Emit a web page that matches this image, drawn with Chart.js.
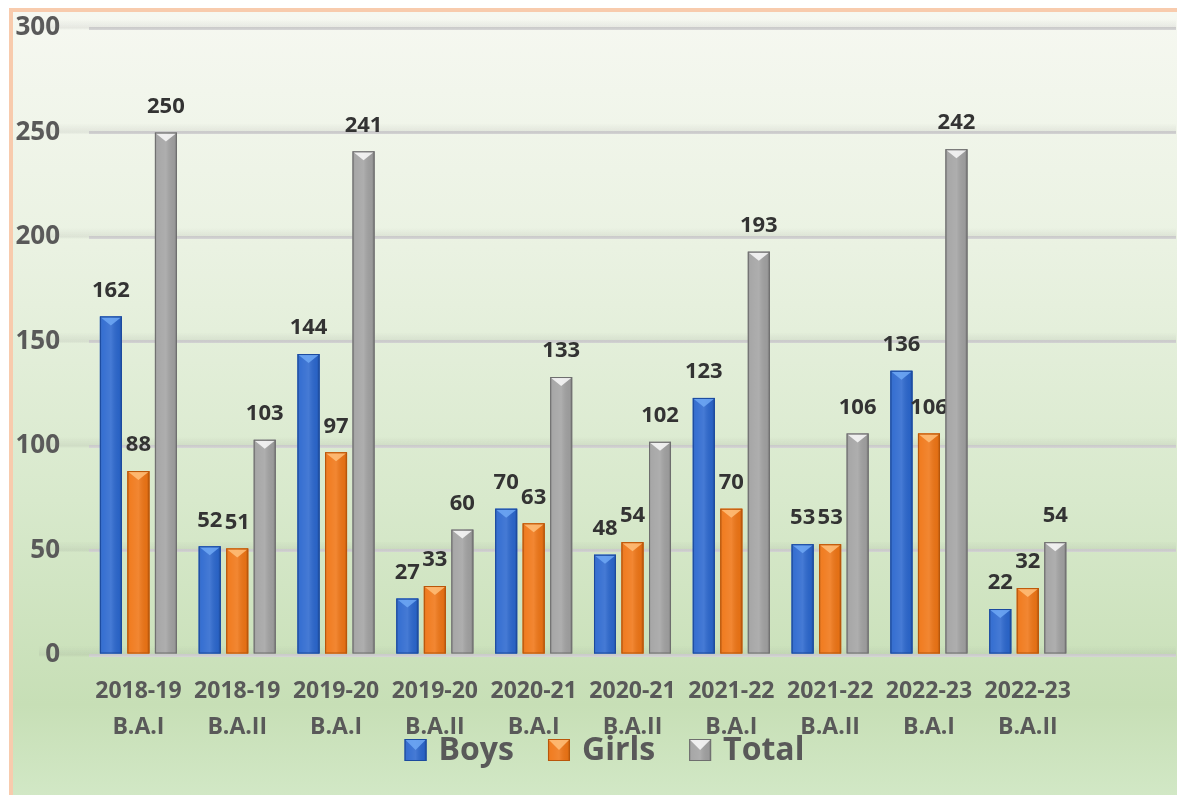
<!DOCTYPE html>
<html>
<head>
<meta charset="utf-8">
<script src="https://cdn.jsdelivr.net/npm/chart.js@4"></script>
<style>
  html, body { margin: 0; padding: 0; background: #ffffff; }
  #frame {
    position: absolute; left: 9px; top: 8px; width: 1168px; height: 787px;
    border-left: 4px solid #F8CBAD; border-top: 4px solid #F8CBAD;
    background: linear-gradient(to bottom, #F6F8F1 0%, #EAF2E2 30%, #D8E9CC 62%, #C7DFB6 88%, #D2E8C6 100%);
  }
  #box { position: absolute; left: 0; top: 0; width: 1177px; height: 795px; }
</style>
</head>
<body>
<div id="frame"></div>
<div id="box"><canvas id="enrolChart"></canvas></div>
<script>
// sessions / classes on the x axis (last slot left empty, like the original)
const sessions = [
    ['2018-19', 'B.A.I'], ['2018-19', 'B.A.II'],
    ['2019-20', 'B.A.I'], ['2019-20', 'B.A.II'],
    ['2020-21', 'B.A.I'], ['2020-21', 'B.A.II'],
    ['2021-22', 'B.A.I'], ['2021-22', 'B.A.II'],
    ['2022-23', 'B.A.I'], ['2022-23', 'B.A.II'],
    ''
];
const boys  = [162, 52, 144, 27, 70, 48, 123, 53, 136, 22];
const girls = [88, 51, 97, 33, 63, 54, 70, 53, 106, 32];
const total = [250, 103, 241, 60, 133, 102, 193, 106, 242, 54];
const yTicks = [0, 50, 100, 150, 200, 250, 300];

const FONT = '"Open Sans", Lato, sans-serif';
const TEXT = '#595959';

// bevel colours per series: [face, dark edge, light tip]
const shades = [
    ['#2C68CF', '#1C4A9E', '#6FA8F5'],
    ['#F07616', '#B9560A', '#FFC07A'],
    ['#A3A3A3', '#6E6E6E', '#FAFAFA']
];

function bevelBox(ctx, l, t, w, h, sh, tip) {
    ctx.fillStyle = sh[0];
    ctx.fillRect(l, t, w, h);
    const g = ctx.createLinearGradient(l, 0, l + w, 0);
    g.addColorStop(0, 'rgba(0,0,0,0.18)');
    g.addColorStop(0.12, 'rgba(255,255,255,0.05)');
    g.addColorStop(0.5, 'rgba(255,255,255,0.12)');
    g.addColorStop(0.88, 'rgba(0,0,0,0.05)');
    g.addColorStop(1, 'rgba(0,0,0,0.25)');
    ctx.fillStyle = g;
    ctx.fillRect(l, t, w, h);
    ctx.beginPath();
    ctx.moveTo(l + 1, t + 1);
    ctx.lineTo(l + w - 1, t + 1);
    ctx.lineTo(l + w / 2, t + tip);
    ctx.closePath();
    ctx.fillStyle = sh[2];
    ctx.globalAlpha = 0.85;
    ctx.fill();
    ctx.globalAlpha = 1;
    ctx.strokeStyle = sh[1];
    ctx.lineWidth = 1;
    ctx.strokeRect(l + 0.5, t + 0.5, w - 1, h - 1);
}

// soft shadowed gridlines behind the bars
const gridShadow = {
    id: 'gridShadow',
    beforeDatasetsDraw(chart) {
        const { ctx, chartArea, scales } = chart;
        ctx.save();
        yTicks.forEach(v => {
            const y = scales.y.getPixelForValue(v);
            const g = ctx.createLinearGradient(0, y - 9, 0, y + 2);
            g.addColorStop(0, 'rgba(120,120,120,0)');
            g.addColorStop(0.8, 'rgba(120,120,120,0.12)');
            g.addColorStop(1, 'rgba(120,120,120,0)');
            ctx.fillStyle = g;
            ctx.fillRect(chartArea.left - 50, y - 9, chartArea.right - chartArea.left + 50, 11);
        });
        ctx.restore();
    }
};

// 3d-ish shading, bevel tip and value labels on every bar
const barDeco = {
    id: 'barDeco',
    afterDatasetsDraw(chart) {
        const ctx = chart.ctx;
        chart.data.datasets.forEach((ds, di) => {
            const meta = chart.getDatasetMeta(di);
            meta.data.forEach((bar, i) => {
                if (ds.data[i] == null) return;
                const { x, y, base, width } = bar.getProps(['x', 'y', 'base', 'width'], true);
                ctx.save();
                bevelBox(ctx, x - width / 2, y, width, base - y, shades[di], Math.min(9, (base - y) / 2));
                ctx.fillStyle = '#333333';
                ctx.font = 'bold 22px ' + FONT;
                ctx.textAlign = 'center';
                ctx.textBaseline = 'middle';
                ctx.fillText(ds.data[i], x, y - 26);
                ctx.restore();
            });
        });
    }
};

// legend drawn by hand so it can sit close under the two-line labels
const bevelLegend = {
    id: 'bevelLegend',
    afterDraw(chart) {
        const ctx = chart.ctx;
        const box = 22, gapText = 12, gapItem = 34, cy = 750;
        ctx.save();
        ctx.font = 'bold 32px ' + FONT;
        const items = chart.data.datasets.map(d => d.label);
        const widths = items.map(t => box + gapText + ctx.measureText(t).width);
        const full = widths.reduce((a, b) => a + b, 0) + gapItem * (items.length - 1);
        let x = chart.width / 2 + 16 - full / 2;
        items.forEach((t, i) => {
            bevelBox(ctx, x, cy - box / 2, box, box, shades[i], box / 2);
            ctx.fillStyle = TEXT;
            ctx.textAlign = 'left';
            ctx.textBaseline = 'middle';
            ctx.fillText(t, x + box + gapText, cy + 1);
            x += widths[i] + gapItem;
        });
        ctx.restore();
    }
};

new Chart(document.getElementById('enrolChart'), {
    type: 'bar',
    data: {
        labels: sessions,
        datasets: [
            { label: 'Boys',  data: boys,  backgroundColor: shades[0][0], borderColor: shades[0][1] },
            { label: 'Girls', data: girls, backgroundColor: shades[1][0], borderColor: shades[1][1] },
            { label: 'Total', data: total, backgroundColor: shades[2][0], borderColor: shades[2][1] }
        ]
    },
    options: {
        responsive: true,
        maintainAspectRatio: false,
        animation: false,
        categoryPercentage: 0.835,
        barPercentage: 0.8,
        layout: { padding: { left: 0, right: 1, top: 0, bottom: 50 } },
        plugins: {
            tooltip: { enabled: false },
            legend: { display: false }
        },
        scales: {
            x: {
                grid: { display: false, drawTicks: false },
                border: { display: false },
                ticks: {
                    color: TEXT,
                    padding: 19,
                    maxRotation: 0,
                    autoSkip: false,
                    font: { family: FONT, size: 23, weight: 'bold', lineHeight: 1.55 }
                },
                afterFit(scale) { scale.height = 90; }
            },
            y: {
                min: 0,
                max: 300,
                ticks: {
                    stepSize: 50,
                    color: TEXT,
                    padding: 29,
                    font: { family: FONT, size: 26, weight: 'bold' }
                },
                grid: { color: '#D6D6D6', lineWidth: 3, drawTicks: false },
                border: { display: false },
                afterFit(scale) {
                    scale.width = 89;
                    scale.paddingTop = 28;
                }
            }
        }
    },
    plugins: [gridShadow, barDeco, bevelLegend]
});
</script>
</body>
</html>
